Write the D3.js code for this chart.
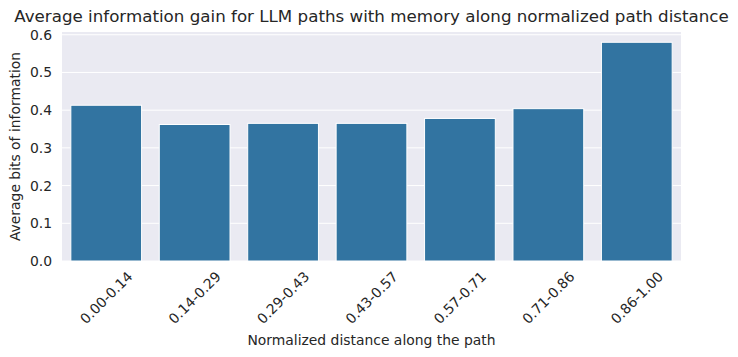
<!DOCTYPE html>
<html>
<head>
<meta charset="utf-8">
<script src="https://cdn.jsdelivr.net/npm/d3@7"></script>
<style>
  body { margin: 0; background: #fff; }
  text { font-family: "DejaVu Sans", sans-serif; fill: #262626; }
</style>
</head>
<body>
<script>
// data
var categories = ["0.00-0.14", "0.14-0.29", "0.29-0.43", "0.43-0.57", "0.57-0.71", "0.71-0.86", "0.86-1.00"];
var values = [0.413, 0.362, 0.365, 0.365, 0.378, 0.404, 0.580];
var yTicks = [0.0, 0.1, 0.2, 0.3, 0.4, 0.5, 0.6];

var W = 738, H = 357;
var fs = 13.9;
var margin = {top: 32, right: 57, bottom: 96, left: 62},
    width = W - margin.left - margin.right,
    height = H - margin.top - margin.bottom;

var svg = d3.select("body")
    .append("svg")
    .attr("width", W)
    .attr("height", H);

var g = svg.append("g")
    .attr("transform", "translate(" + margin.left + "," + margin.top + ")");

var x = d3.scaleBand()
    .domain(categories)
    .range([0, width])
    .paddingInner(0.2)
    .paddingOuter(0.1);

var y = d3.scaleLinear()
    .domain([0, 0.58 * 1.047])
    .range([height, 0]);

// background + grid
g.append("rect")
    .attr("width", width)
    .attr("height", height)
    .attr("fill", "#eaeaf2");

g.append("g")
    .selectAll("line")
    .data(yTicks)
    .enter().append("line")
    .attr("x1", 0)
    .attr("x2", width)
    .attr("y1", function(d) { return y(d); })
    .attr("y2", function(d) { return y(d); })
    .attr("stroke", "#fff")
    .attr("stroke-width", 1);

// y axis labels
var yAxis = g.append("g")
    .call(d3.axisLeft(y).tickValues(yTicks).tickFormat(d3.format(".1f")).tickSize(0).tickPadding(10));
yAxis.select(".domain").remove();
yAxis.selectAll("text")
    .style("font-size", fs + "px")
    .attr("fill", "#262626");

// bars
g.append("g")
    .selectAll("rect")
    .data(values)
    .enter().append("rect")
    .attr("x", function(d, i) { return x(categories[i]); })
    .attr("y", function(d) { return y(d); })
    .attr("width", x.bandwidth())
    .attr("height", function(d) { return height - y(d); })
    .attr("fill", "#3274a1")
    .attr("stroke", "#fff")
    .attr("stroke-width", 1);

// x tick labels, rotated 45 and centred under the bar
var xl = g.append("g")
    .selectAll("text")
    .data(categories)
    .enter().append("text")
    .text(function(d) { return d; })
    .style("font-size", fs + "px")
    .attr("text-anchor", "middle")
    .attr("dominant-baseline", "central");
xl.attr("transform", function(d) {
    var w = this.getComputedTextLength();
    var half = (w + fs) * Math.SQRT1_2 / 2;
    var cx = x(d) + x.bandwidth() / 2;
    return "translate(" + cx + "," + (height + 8 + half) + ") rotate(-45)";
});

// axis titles
svg.append("text")
    .attr("x", margin.left + width / 2)
    .attr("y", 345)
    .attr("text-anchor", "middle")
    .style("font-size", fs + "px")
    .text("Normalized distance along the path");

svg.append("text")
    .attr("transform", "translate(20," + (margin.top + height / 2) + ") rotate(-90)")
    .attr("text-anchor", "middle")
    .style("font-size", fs + "px")
    .text("Average bits of information");

svg.append("text")
    .attr("x", margin.left + width / 2)
    .attr("y", 22)
    .attr("text-anchor", "middle")
    .style("font-size", "16.7px")
    .text("Average information gain for LLM paths with memory along normalized path distance");
</script>
</body>
</html>
